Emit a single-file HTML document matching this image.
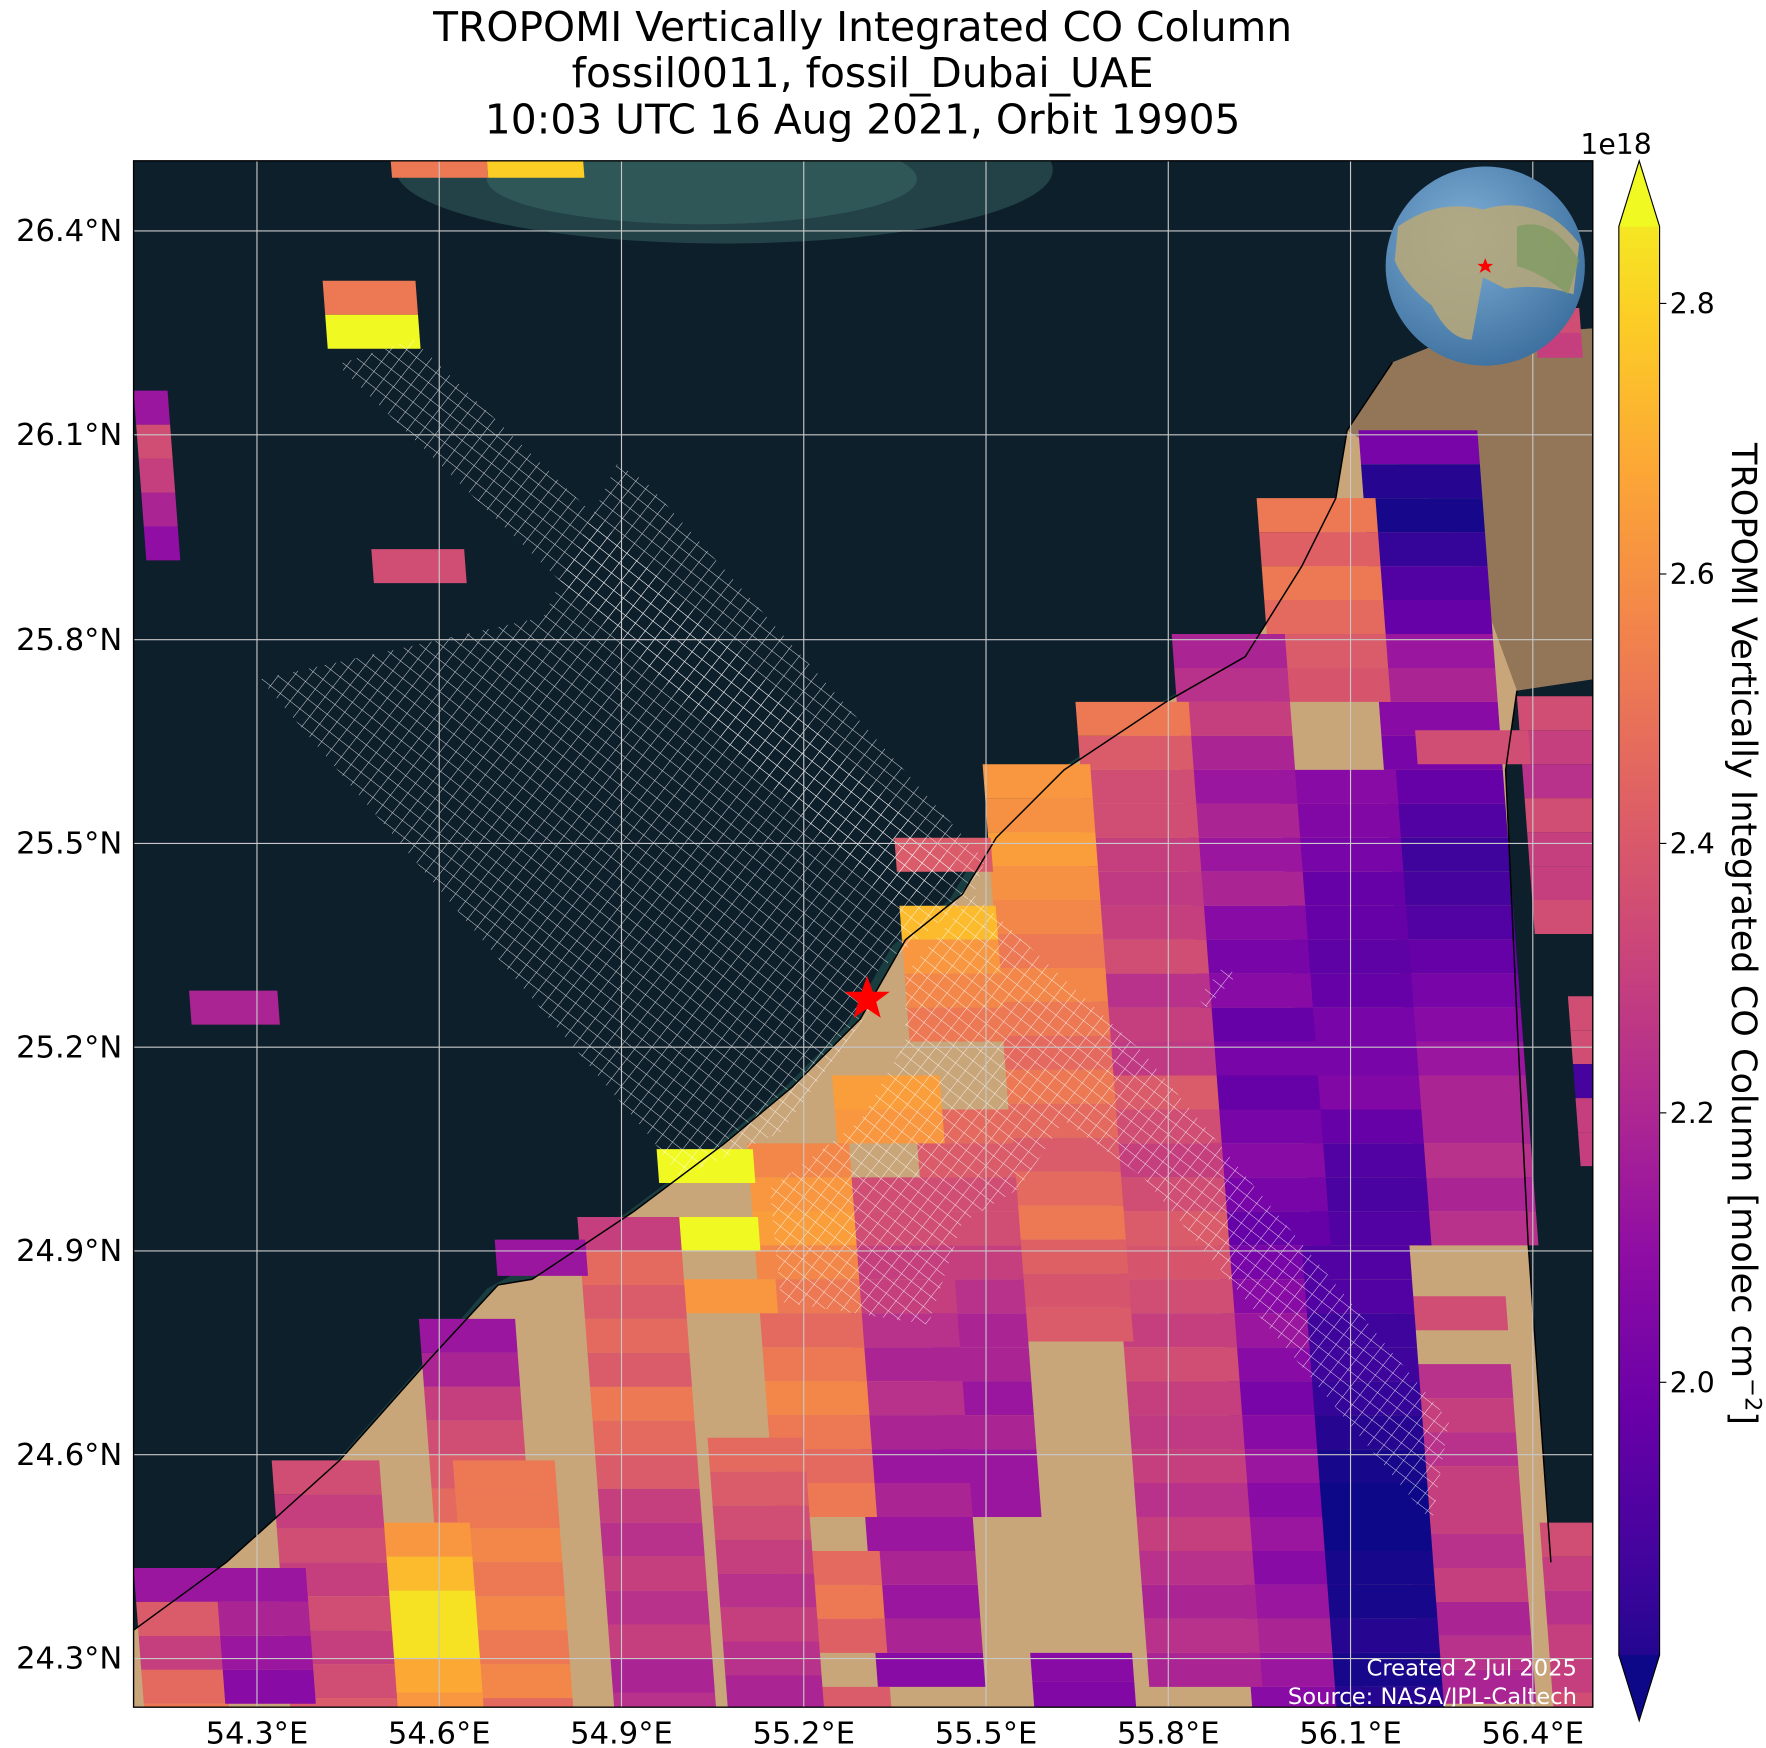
<!DOCTYPE html>
<html><head><meta charset="utf-8"><style>
html,body{margin:0;padding:0;background:#fff}
svg{display:block}
text{font-family:"DejaVu Sans","Liberation Sans",sans-serif}
</style></head><body>
<svg id="s" width="1766" height="1748" viewBox="0 0 1560 1544" xmlns="http://www.w3.org/2000/svg">
<defs>
<clipPath id="mc"><rect x="118" y="142" width="1289" height="1366"/></clipPath>
<pattern id="lat" width="11" height="11" patternUnits="userSpaceOnUse" patternTransform="rotate(38)">
<path d="M0 0H11M0 0V11" stroke="#fff" stroke-width="0.9" stroke-opacity="0.8" fill="none"/>
</pattern>
<linearGradient id="cb" x1="0" y1="1" x2="0" y2="0">
<stop offset="0" stop-color="#0d0887"/><stop offset="0.1" stop-color="#41049d"/><stop offset="0.2" stop-color="#6a00a8"/><stop offset="0.3" stop-color="#8f0da4"/><stop offset="0.4" stop-color="#b12a90"/><stop offset="0.5" stop-color="#cc4778"/><stop offset="0.6" stop-color="#e16462"/><stop offset="0.7" stop-color="#f2844b"/><stop offset="0.8" stop-color="#fca636"/><stop offset="0.9" stop-color="#fcce25"/><stop offset="1" stop-color="#f0f921"/>
</linearGradient>
<radialGradient id="gl" cx="0.4" cy="0.35" r="0.7"><stop offset="0" stop-color="#7fb0d8"/><stop offset="1" stop-color="#3d6f9e"/></radialGradient>
</defs>
<rect width="1560" height="1544" fill="#fff"/>
<g clip-path="url(#mc)">
<rect x="118" y="142" width="1289" height="1366" fill="#0e1f2c"/>
<ellipse cx="640" cy="150" rx="290" ry="65" fill="#2a4f50" opacity="0.75"/>
<ellipse cx="620" cy="158" rx="190" ry="40" fill="#3d6a64" opacity="0.55"/>
<polyline points="200,1400 300,1310 380,1220 440,1150 560,1085 640,1025 700,975 760,915 800,845 850,805 880,755 940,695 1030,635 1100,595" fill="none" stroke="#1f4a48" stroke-width="30" opacity="0.7"/>
<polygon points="118,1508 118,1440 200,1380 300,1290 380,1200 440,1135 470,1130 560,1070 640,1010 700,960 760,900 800,830 850,790 880,740 940,680 1030,620 1100,580 1150,500 1180,440 1190,380 1230,320 1280,300 1407,290 1407,600 1340,610 1330,680 1340,900 1350,1100 1370,1380 1407,1380 1407,1508" fill="#c9a57a"/>
<polygon points="1190,380 1230,320 1280,300 1407,290 1407,600 1340,610 1300,500 1250,420" fill="#6e5640" opacity="0.6"/>
<g id="cells"></g>
<polygon points="298,322 365,300 850,770 790,800" fill="url(#lat)"/>
<polygon points="230,600 480,545 545,410 570,425 870,760 860,790 760,870 770,890 690,1000 600,1040 575,1005" fill="url(#lat)"/>
<polygon points="860,790 1010,930 1280,1255 1265,1345 1010,1040 940,990 900,1050 850,1080 820,1170 690,1150 680,1050 760,990 800,920 800,860" fill="url(#lat)"/>
<polygon points="1058,882 1082,852 1092,862 1066,890" fill="url(#lat)"/>
<polyline points="440,1135 470,1130 560,1070 640,1010 700,960 760,900 800,830 850,790 880,740 940,680 1030,620 1100,580 1150,500 1180,440 1190,380 1230,320" fill="none" stroke="#000" stroke-width="1.3"/>
<polyline points="118,1440 200,1380 300,1290 380,1200 440,1135" fill="none" stroke="#000" stroke-width="1.3"/>
<polyline points="1340,610 1330,680 1340,900 1350,1100 1370,1380" fill="none" stroke="#000" stroke-width="1.3"/>
<g stroke="#c8c8c8" stroke-width="1">
<line x1="227" y1="142" x2="227" y2="1508"/><line x1="388" y1="142" x2="388" y2="1508"/><line x1="549" y1="142" x2="549" y2="1508"/><line x1="710" y1="142" x2="710" y2="1508"/><line x1="871" y1="142" x2="871" y2="1508"/><line x1="1032" y1="142" x2="1032" y2="1508"/><line x1="1193" y1="142" x2="1193" y2="1508"/><line x1="1354" y1="142" x2="1354" y2="1508"/>
<line x1="118" y1="204" x2="1407" y2="204"/><line x1="118" y1="384" x2="1407" y2="384"/><line x1="118" y1="565" x2="1407" y2="565"/><line x1="118" y1="745" x2="1407" y2="745"/><line x1="118" y1="925" x2="1407" y2="925"/><line x1="118" y1="1105" x2="1407" y2="1105"/><line x1="118" y1="1285" x2="1407" y2="1285"/><line x1="118" y1="1465" x2="1407" y2="1465"/>
</g>
<polygon points="766,862 771,876 786,876 774,885 778,899 766,891 754,899 758,885 746,876 761,876" fill="#f00"/>
<circle cx="1312" cy="235" r="88" fill="url(#gl)"/>
<path d="M1235,200 Q1270,175 1310,185 Q1360,170 1395,215 L1390,260 Q1360,250 1330,255 L1310,245 L1300,300 Q1280,300 1265,270 Q1240,250 1232,230 Z" fill="#b8a878" opacity="0.85"/>
<path d="M1340,200 Q1370,190 1395,230 L1385,260 Q1360,240 1340,235 Z" fill="#7a9a60" opacity="0.7"/>
<polygon points="1312,228 1314,233 1319,233 1315,236 1317,241 1312,238 1307,241 1309,236 1305,233 1310,233" fill="#f00"/>
<text x="1393" y="1480" font-size="20" fill="#fff" text-anchor="end">Created 2 Jul 2025</text>
<text x="1393" y="1505" font-size="20" fill="#fff" text-anchor="end">Source: NASA/JPL-Caltech</text>
</g>
<rect x="118" y="142" width="1289" height="1366" fill="none" stroke="#000" stroke-width="1.2"/>
<g font-size="36" text-anchor="middle" fill="#000">
<text x="762" y="36">TROPOMI Vertically Integrated CO Column</text>
<text x="762" y="77">fossil0011, fossil_Dubai_UAE</text>
<text x="762" y="118">10:03 UTC 16 Aug 2021, Orbit 19905</text>
</g>
<g font-size="27" text-anchor="end" fill="#000">
<text x="108" y="213">26.4°N</text><text x="108" y="393">26.1°N</text><text x="108" y="574">25.8°N</text><text x="108" y="754">25.5°N</text><text x="108" y="934">25.2°N</text><text x="108" y="1114">24.9°N</text><text x="108" y="1294">24.6°N</text><text x="108" y="1474">24.3°N</text>
</g>
<g font-size="27" text-anchor="middle" fill="#000">
<text x="227" y="1540">54.3°E</text><text x="388" y="1540">54.6°E</text><text x="549" y="1540">54.9°E</text><text x="710" y="1540">55.2°E</text><text x="871" y="1540">55.5°E</text><text x="1032" y="1540">55.8°E</text><text x="1193" y="1540">56.1°E</text><text x="1354" y="1540">56.4°E</text>
</g>
<polygon points="1430,200 1448,142 1466,200 1466,1462 1448,1520 1430,1462" fill="url(#cb)"/>
<polygon points="1430,200 1448,142 1466,200" fill="#f0f921"/>
<polygon points="1430,1462 1448,1520 1466,1462" fill="#0d0887"/>
<polygon points="1430,200 1448,142 1466,200 1466,1462 1448,1520 1430,1462" fill="none" stroke="#000" stroke-width="1"/>
<g stroke="#000"><line x1="1466" y1="268" x2="1472" y2="268"/><line x1="1466" y1="507" x2="1472" y2="507"/><line x1="1466" y1="745" x2="1472" y2="745"/><line x1="1466" y1="983" x2="1472" y2="983"/><line x1="1466" y1="1221" x2="1472" y2="1221"/></g>
<g font-size="25" fill="#000">
<text x="1475" y="277">2.8</text><text x="1475" y="516">2.6</text><text x="1475" y="754">2.4</text><text x="1475" y="992">2.2</text><text x="1475" y="1230">2.0</text>
<text x="1396" y="136">1e18</text>
</g>
<text transform="translate(1530,825) rotate(90)" font-size="31" text-anchor="middle" fill="#000">TROPOMI Vertically Integrated CO Column [molec cm<tspan dy="-12" font-size="20">−2</tspan><tspan dy="12">]</tspan></text>
</svg>
<script>
(function(){
var st=[[0,'#0d0887'],[.1,'#41049d'],[.2,'#6a00a8'],[.3,'#8f0da4'],[.4,'#b12a90'],[.5,'#cc4778'],[.6,'#e16462'],[.7,'#f2844b'],[.8,'#fca636'],[.9,'#fcce25'],[1,'#f0f921']];
function h2(c){return [parseInt(c.substr(1,2),16),parseInt(c.substr(3,2),16),parseInt(c.substr(5,2),16)];}
function col(v){var t=(v-1.8)/(2.857-1.8);t=Math.max(0,Math.min(1,t));for(var i=0;i<10;i++){if(t<=st[i+1][0]){var f=(t-st[i][0])/0.1,a=h2(st[i][1]),b=h2(st[i+1][1]);return 'rgb('+a.map(function(x,k){return Math.round(x+(b[k]-x)*f)}).join(',')+')';}}return st[10][1];}
var s=0.075,g=document.getElementById('cells'),out='';
function C(x0,y0,w,h,vals){for(var i=0;i<vals.length;i++){var v=vals[i];if(v==null)continue;var y1=y0+i*h,y2=y1+h,xa=x0+s*(y1-y0),xb=x0+s*(y2-y0);out+='<polygon points="'+xa+','+y1+' '+(xa+w)+','+y1+' '+(xb+w)+','+y2+' '+xb+','+y2+'" fill="'+col(v)+'"/>';}}
C(1200,380,105,30,[2.05,1.85,1.82,1.88,1.95,2.0,2.15,2.2,2.1,2.05,2.0,1.95,1.9,1.92,1.95,2.0,2.05,2.1,2.15,2.2,2.2,2.25,2.2,2.25]);
C(1110,440,105,30,[2.5,2.42,2.5,2.45,2.4,2.38,null,null,2.1,2.08,2.05,2.0,2.0,1.98,2.0,2.05,2.05,2.08,2.0,1.95,1.93,1.95]);
C(1035,560,100,30,[2.2,2.25,2.3,2.2,2.15,2.2,2.15,2.2,2.1,2.05,2.1,2.0,2.05,2.0,2.05,2.1,2.05,2.0,2.05,2.1,2.15,2.1,2.05,2.1,2.15,2.1,2.15,2.1,2.15,2.2,2.15,2.1]);
C(950,620,100,30,[2.5,2.4,2.35,2.35,2.3,2.28,2.3,2.35,2.25,2.3,2.28,2.4,2.35,2.3,2.35,2.4,2.38,2.35,2.3,2.35,2.3,2.28,2.3,2.25,2.3,2.25,2.2,2.25,2.2]);
C(868,675,95,30,[2.6,2.58,2.62,2.58,2.55,2.5,2.55,2.5,2.45,2.5,2.45,2.4,2.45,2.5,2.42,2.38,2.4,null]);
C(910,1460,90,25,[2.1,2.08]);
C(790,740,85,30,[2.4,null,2.7,2.6,2.55,2.5,null,null,2.45,2.4,2.35,2.35,2.3,2.25,2.2,2.2,2.15,2.2,2.15,2.15]);
C(735,950,95,30,[2.62,2.6,null,2.35,2.35,2.3,2.3,2.25,2.2,2.25,2.2,2.15,2.2,2.15,2.2,2.15,2.2,2.1]);
C(660,1010,90,30,[2.55,2.6,2.62,2.55,2.5,2.45,2.5,2.55,2.5,2.45,2.5,null,2.45,2.5,2.42,null,2.4]);
C(580,1015,85,30,[2.86,null,2.86]);
C(600,1130,85,30,[2.6]);
C(625,1270,85,30,[2.45,2.4,2.35,2.3,2.25,2.3,2.25,2.2]);
C(510,1075,90,30,[2.3,2.45,2.4,2.45,2.4,2.5,2.45,2.4,2.3,2.25,2.3,2.25,2.3,2.2,2.25]);
C(437,1095,80,32,[2.15]);
C(370,1165,85,30,[2.15,2.2,2.3,2.35,2.4,2.45]);
C(400,1290,90,30,[2.5,2.5,2.55,2.5,2.55,2.5,2.55,2.45]);
C(330,1345,85,30,[2.6,2.7,2.8,2.8,2.65,2.6]);
C(240,1290,95,30,[2.35,2.3,2.35,2.3,2.35,2.3,2.35,2.4]);
C(118,1385,75,30,[2.15,2.4,2.3,2.45,2.5]);
C(190,1385,80,30,[2.15,2.2,2.15,2.1]);
C(1230,1145,100,30,[2.35,null,2.25,2.3,2.25,2.3,2.3,2.25,2.3,2.2,2.25,2.2]);
C(1150,1100,95,30,[1.95,1.95,1.9,1.9,1.88,1.85,1.82,1.8,1.8,1.82,1.82,1.85,1.82,1.85]);
C(1340,615,70,30,[2.35,2.3,2.25,2.35,2.3,2.3,2.35]);
C(1250,645,100,30,[2.35]);
C(1385,880,22,30,[2.35,2.35,1.92,2.3,2.3]);
C(1360,1345,50,30,[2.35,2.3,2.25,2.3,2.3,2.35]);
C(118,345,30,30,[2.15,2.35,2.3,2.2,2.12]);
C(328,485,82,30,[2.35]);
C(285,248,82,30,[2.5,2.86]);
C(345,140,85,17,[2.5]);C(430,140,85,17,[2.75]);
C(167,875,78,30,[2.2]);
C(1355,272,40,22,[2.35,2.3]);
g.innerHTML=out;
})();
</script>
</body></html>
